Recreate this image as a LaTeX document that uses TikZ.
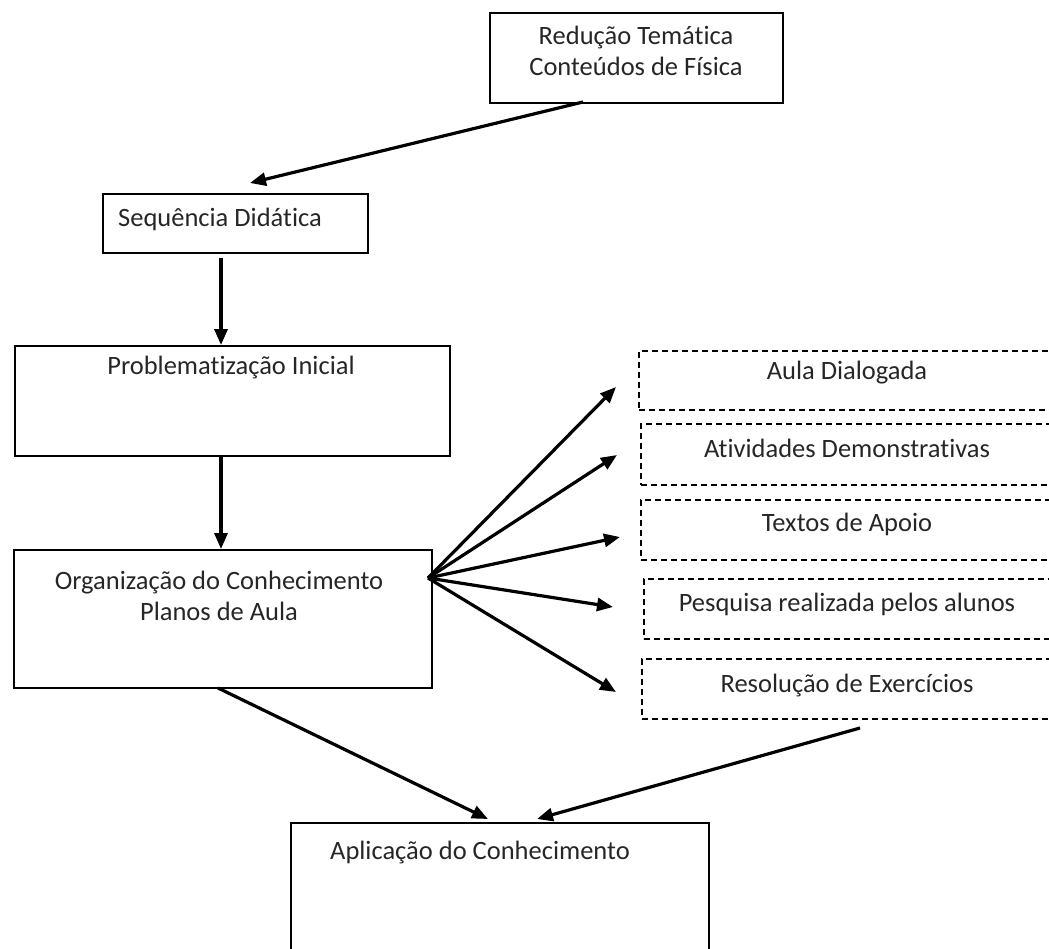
\documentclass[tikz,border=0pt]{standalone}
\usepackage{fontspec}
\setmainfont{Carlito}[RawFeature=-liga]
\usetikzlibrary{arrows.meta,calc}
\begin{document}
\begin{tikzpicture}[x=1pt,y=-1pt,
  box/.style={draw=black,line width=1.8pt,rectangle,inner sep=0pt},
  dbox/.style={draw=black,line width=1.5pt,dash pattern=on 6pt off 4pt,rectangle,inner sep=0pt},
  lbl/.style={font=\fontsize{26.5}{30.5}\selectfont,align=center,inner sep=0pt,anchor=center,text=black!85},
  arr/.style={line width=3.2pt,-{Triangle[length=16pt,width=13pt]}}]
\useasboundingbox (0,0) rectangle (1049,948);
\clip (0,0) rectangle (1049,948);
% boxes
\node[box,minimum width=293pt,minimum height=90pt,anchor=north west] (red) at (489,12) {};
\node[box,minimum width=265pt,minimum height=59pt,anchor=north west] (seq) at (102,193) {};
\node[box,minimum width=435pt,minimum height=110pt,anchor=north west] (prob) at (14,345) {};
\node[box,minimum width=418pt,minimum height=138pt,anchor=north west] (org) at (13,549) {};
\node[box,minimum width=418pt,minimum height=140pt,anchor=north west] (apl) at (290,822) {};
\node[dbox,minimum width=460pt,minimum height=59pt,anchor=north west] (d1) at (638,350) {};
\node[dbox,minimum width=460pt,minimum height=61pt,anchor=north west] (d2) at (640,423) {};
\node[dbox,minimum width=460pt,minimum height=60pt,anchor=north west] (d3) at (640,499) {};
\node[dbox,minimum width=460pt,minimum height=60pt,anchor=north west] (d4) at (643,578) {};
\node[dbox,minimum width=460pt,minimum height=60pt,anchor=north west] (d5) at (641,658) {};
% texts
\node[lbl] (tred) at (636,51) {Redução Temática\\Conteúdos de Física};
\node[lbl] (tseq) at (220,219) {Sequência Didática};
\node[lbl] (tprob) at (231,368) {Problematização Inicial};
\node[lbl] (torg) at (219,596) {Organização do Conhecimento\\Planos de Aula};
\node[lbl] (tapl) at (480,853) {Aplicação do Conhecimento};
\node[lbl] (td1) at (847,373) {Aula Dialogada};
\node[lbl] (td2) at (847,448) {Atividades Demonstrativas};
\node[lbl] (td3) at (847,524) {Textos de Apoio};
\node[lbl] (td4) at (847,604) {Pesquisa realizada pelos alunos};
\node[lbl] (td5) at (847,686) {Resolução de Exercícios};
% connector end points
\coordinate (a1s) at (583,102);
\coordinate (a1e) at (250,183);
\coordinate (a2s) at (221,258);
\coordinate (a2e) at (221,345);
\coordinate (a3s) at (221,456);
\coordinate (a3e) at (221,549);
\coordinate (fan) at (428,578);
\coordinate (f1) at (616,387);
\coordinate (f2) at (617,455);
\coordinate (f3) at (620,537);
\coordinate (f4) at (613,607);
\coordinate (f5) at (616,692);
\coordinate (b1s) at (218,688);
\coordinate (b1e) at (488,819);
\coordinate (b2s) at (860,728);
\coordinate (b2e) at (537,819);
% connectors
\draw[arr] (a1s) -- (a1e);
\draw[arr] (a2s) -- (a2e);
\draw[arr] (a3s) -- (a3e);
\draw[arr] (fan) -- (f1);
\draw[arr] (fan) -- (f2);
\draw[arr] (fan) -- (f3);
\draw[arr] (fan) -- (f4);
\draw[arr] (fan) -- (f5);
\draw[arr] (b1s) -- (b1e);
\draw[arr] (b2s) -- (b2e);
\end{tikzpicture}
\end{document}
